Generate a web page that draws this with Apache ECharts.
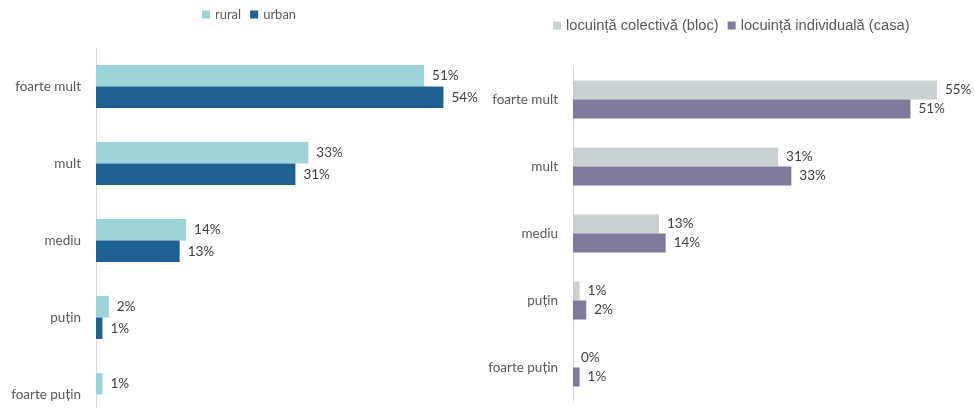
<!DOCTYPE html>
<html><head><meta charset="utf-8">
<script src="https://cdn.jsdelivr.net/npm/echarts@6/dist/echarts.min.js"></script>
<style>html,body{margin:0;padding:0;background:#fff}#c{width:974px;height:408px}</style>
</head><body><div id="c"></div>
<script>
const categories = ['foarte mult', 'mult', 'mediu', 'puțin', 'foarte puțin'];
const rural = [51, 33, 14, 2, 1];
const urban = [54, 31, 13, 1, null];
const colectiva = [55, 31, 13, 1, 0];
const individuala = [51, 33, 14, 2, 1];
const leftLegend = ['rural', 'urban'];
const rightLegend = ['locuință colectivă (bloc)', 'locuință individuală (casa)'];

const chart = echarts.init(document.getElementById('c'));
const FONT = 'Lato, "Open Sans", sans-serif';
const lbl = {show: true, position: 'right', distance: 8, formatter: p => p.value == null ? '' : p.value + '%',
  color: '#404040', fontFamily: FONT, fontSize: 13.5};
chart.setOption({
  animation: false,
  legend: [
    {data: leftLegend, left: 202, top: 8, padding: 0, itemWidth: 8, itemHeight: 8, itemGap: 9, icon: 'rect',
     textStyle: {color: '#595959', fontFamily: FONT, fontSize: 13}},
    {data: rightLegend, left: 553, top: 18, padding: 0, itemWidth: 8, itemHeight: 8, itemGap: 9, icon: 'rect',
     textStyle: {color: '#595959', fontFamily: '"Liberation Sans", Arial, sans-serif', fontSize: 14.7}}
  ],
  grid: [
    {left: 96, top: 48, width: 386, height: 385, outerBoundsMode: 'none', containLabel: false},
    {left: 573, top: 66, width: 397, height: 335, outerBoundsMode: 'none', containLabel: false}
  ],
  xAxis: [
    {gridIndex: 0, type: 'value', min: 0, max: 60, show: false},
    {gridIndex: 1, type: 'value', min: 0, max: 60, show: false}
  ],
  yAxis: [0, 1].map(i => ({
    gridIndex: i, type: 'category', data: categories, inverse: true,
    axisLine: {show: true, lineStyle: {color: '#d9d9d9', width: 1}},
    axisTick: {show: false},
    axisLabel: {color: '#595959', fontFamily: FONT, fontSize: 13.5, margin: 15}
  })),
  series: [
    {name: 'rural', type: 'bar', xAxisIndex: 0, yAxisIndex: 0, data: rural, barWidth: 21.5, barGap: '0%',
     itemStyle: {color: '#9dd3d9'}, label: lbl},
    {name: 'urban', type: 'bar', xAxisIndex: 0, yAxisIndex: 0, data: urban, barWidth: 21.5, barGap: '0%',
     itemStyle: {color: '#1f6193'}, label: lbl},
    {name: 'locuință colectivă (bloc)', type: 'bar', xAxisIndex: 1, yAxisIndex: 1, data: colectiva, barWidth: 19, barGap: '0%',
     itemStyle: {color: '#c9d1d3'}, label: lbl},
    {name: 'locuință individuală (casa)', type: 'bar', xAxisIndex: 1, yAxisIndex: 1, data: individuala, barWidth: 19, barGap: '0%',
     itemStyle: {color: '#7f7a9b'}, label: lbl}
  ]
});
</script></body></html>
